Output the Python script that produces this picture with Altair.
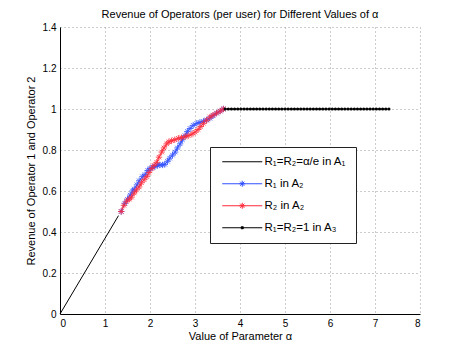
import altair as alt
import pandas as pd

# ---- data ----
a1_x = [0.0, 1.30]
a1_y = [0.0, 0.48]

r1_x = [1.36, 1.44, 1.50, 1.56, 1.61, 1.65, 1.71, 1.76, 1.83, 1.89, 1.95, 2.00,
        2.06, 2.11, 2.17, 2.22, 2.28, 2.33, 2.39, 2.44, 2.50, 2.56, 2.61, 2.67,
        2.72, 2.78, 2.83, 2.89, 2.96, 3.04, 3.11, 3.19, 3.26, 3.33, 3.40, 3.48,
        3.56, 3.63]
r1_y = [0.50, 0.54, 0.56, 0.58, 0.60, 0.61, 0.63, 0.65, 0.67, 0.68, 0.70, 0.71,
        0.715, 0.72, 0.725, 0.727, 0.727, 0.73, 0.745, 0.76, 0.775, 0.79, 0.81, 0.83,
        0.85, 0.87, 0.89, 0.905, 0.92, 0.93, 0.935, 0.94, 0.947, 0.955, 0.967, 0.98,
        0.99, 1.0]

r2_x = [1.36, 1.42, 1.48, 1.54, 1.59, 1.65, 1.70, 1.76, 1.81, 1.87, 1.93, 1.98,
        2.04, 2.09, 2.15, 2.20, 2.26, 2.31, 2.37, 2.42, 2.48, 2.55, 2.63, 2.70,
        2.78, 2.85, 2.93, 3.00, 3.07, 3.13, 3.19, 3.26, 3.33, 3.40, 3.48, 3.56,
        3.63]
r2_y = [0.50, 0.53, 0.55, 0.56, 0.57, 0.59, 0.605, 0.62, 0.64, 0.655, 0.67, 0.69,
        0.71, 0.725, 0.74, 0.765, 0.79, 0.81, 0.83, 0.84, 0.845, 0.85, 0.857, 0.86,
        0.865, 0.87, 0.877, 0.887, 0.90, 0.915, 0.93, 0.945, 0.96, 0.97, 0.98, 0.99,
        1.0]

a3_x = [3.67, 3.74, 3.81, 3.88, 3.95, 4.02, 4.09, 4.16, 4.23, 4.30, 4.37, 4.44,
        4.51, 4.58, 4.65, 4.72, 4.79, 4.86, 4.93, 5.00, 5.07, 5.14, 5.21, 5.28,
        5.35, 5.42, 5.49, 5.56, 5.63, 5.70, 5.77, 5.84, 5.91, 5.98, 6.05, 6.12,
        6.19, 6.26, 6.33, 6.40, 6.47, 6.54, 6.61, 6.68, 6.75, 6.82, 6.89, 6.96,
        7.03, 7.10, 7.17, 7.24, 7.31]
a3_y = [1.0] * len(a3_x)

series_names = ["R\u2081=R\u2082=\u03b1/e in A\u2081",
                "R\u2081 in A\u2082",
                "R\u2082 in A\u2082",
                "R\u2081=R\u2082=1 in A\u2083"]
series_colors = ["#000000", "#3050ff", "#ff2a3a", "#000000"]

y_ticks = [0, 0.2, 0.4, 0.6, 0.8, 1.0, 1.2, 1.4]
x_ticks = [0, 1, 2, 3, 4, 5, 6, 7, 8]

# ---- build table ----
rows = []
for name, xs, ys in zip(series_names, [a1_x, r1_x, r2_x, a3_x], [a1_y, r1_y, r2_y, a3_y]):
    for i, (xv, yv) in enumerate(zip(xs, ys)):
        rows.append({"x": xv, "y": yv, "series": name, "idx": i})
df = pd.DataFrame(rows)

ASTER = "M-1,0H1M0,-1V1M-0.7,-0.7L0.7,0.7M-0.7,0.7L0.7,-0.7"
LEG_LINE = "M-0.5,0H7.5"
LEG_ASTER = "M-0.5,0H7.5M2.9,0H4.1M3.5,-0.6V0.6M3.08,-0.42L3.92,0.42M3.08,0.42L3.92,-0.42"
LEG_DOT = "M-0.5,0H7.5M3.3,-0.2H3.7V0.2H3.3Z"
legend_shapes = [LEG_LINE, LEG_ASTER, LEG_ASTER, LEG_DOT]

xs = alt.X("x:Q", scale=alt.Scale(domain=[0, 8], nice=False),
           axis=alt.Axis(values=x_ticks, title="Value of Parameter  \u03b1",
                         format="d", titlePadding=2))
ys = alt.Y("y:Q", scale=alt.Scale(domain=[0, 1.4], nice=False),
           axis=alt.Axis(values=y_ticks, title="Revenue of Operator 1 and Operator 2",
                         format=".1~f", titlePadding=6))

leg = alt.Legend(
    orient="none", legendX=150, legendY=120, title=None,
    strokeColor="#222222", fillColor="white", padding=9,
    symbolSize=100, symbolStrokeWidth=1, symbolOpacity=1, symbolFillColor="transparent",
    labelOffset=34, rowPadding=9, labelFontSize=11.5,
    labelFont="Liberation Sans", labelColor="black", labelLimit=300,
)
color_scale = alt.Scale(domain=series_names, range=series_colors)

base = alt.Chart(df)
color_enc = alt.Color("series:N", scale=color_scale, legend=leg)

lines = base.mark_line(strokeWidth=1).encode(
    x=xs, y=ys, color=color_enc, detail="series:N", order="idx:Q",
)

stars = base.transform_filter(
    alt.FieldOneOfPredicate(field="series", oneOf=series_names[1:3])
).mark_point(shape=ASTER, size=40, filled=False, strokeWidth=1, opacity=0.85).encode(
    x=xs, y=ys, color=color_enc,
)

dots = base.transform_filter(
    alt.FieldEqualPredicate(field="series", equal=series_names[3])
).mark_point(shape="circle", filled=True, size=10, opacity=1).encode(
    x=xs, y=ys, color=color_enc,
)

# legend-only layer: no marks drawn, legend entries come from the explicit domains
legend_layer = base.transform_filter("datum.idx < 0").mark_point(filled=False).encode(
    x=xs, y=ys,
    color=color_enc,
    shape=alt.Shape("series:N", scale=alt.Scale(domain=series_names, range=legend_shapes),
                    legend=leg),
)

chart = alt.layer(legend_layer, lines, stars, dots).properties(
    width=360, height=287,
    title=alt.TitleParams("Revenue of Operators (per user) for Different Values of \u03b1",
                          fontSize=11, fontWeight="normal", font="Liberation Sans",
                          offset=2, color="black"),
    autosize=alt.AutoSizeParams(type="none"),
    padding={"left": 52, "top": 19, "right": 35, "bottom": 32},
).configure_view(stroke=None).configure_axis(
    labelFont="Liberation Sans", labelFontSize=10, labelColor="black",
    titleFont="Liberation Sans", titleFontSize=11, titleFontWeight="normal", titleColor="black",
    domainColor="black", domainWidth=1, ticks=False, labelPadding=4,
    gridColor="#9a9a9a", gridDash=[1, 3], gridWidth=1, gridOpacity=1,
)

chart.save("out.html", embed_options={"renderer": "svg", "actions": False})
